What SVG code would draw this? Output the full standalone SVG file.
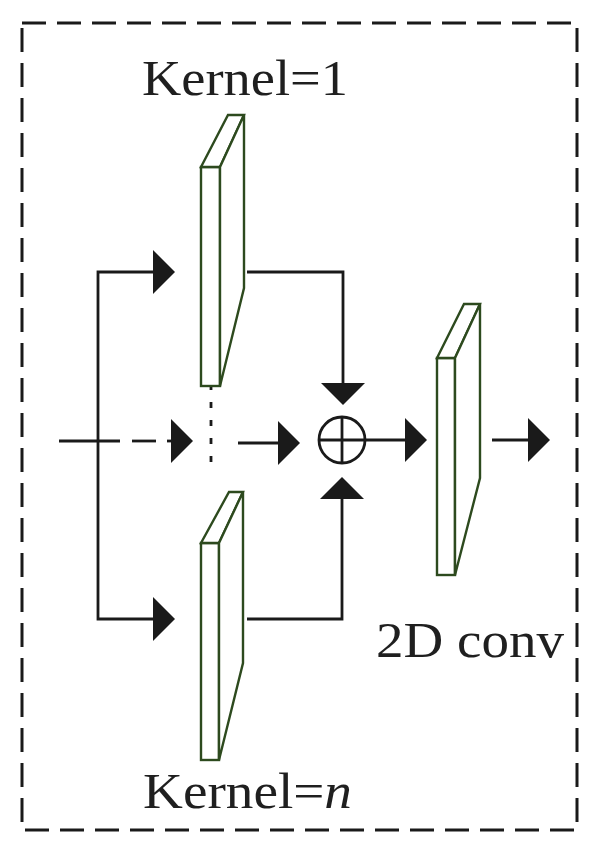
<svg xmlns="http://www.w3.org/2000/svg" width="600" height="854" viewBox="0 0 600 854">
<style>
.frame{fill:none;stroke:#1a1a1a;stroke-width:3;stroke-dasharray:24 11}
.ln{fill:none;stroke:#1a1a1a;stroke-width:2.8}
.ah{fill:#1a1a1a}
.slab{fill:#ffffff;stroke:#2d4a1e;stroke-width:2.4;stroke-linejoin:miter}
.lbl{font-family:"Liberation Serif","Times New Roman",serif;font-size:51px;fill:#1f1f1f}
</style>
<defs>
<path id="ah" d="M0,0 L-22,-22 L-22,22 Z"/>
</defs>
<rect class="frame" x="22" y="23" width="555" height="807"/>
<g id="connectors">
<line class="ln" x1="59" y1="441" x2="120" y2="441"/>
<line class="ln" x1="132" y1="441" x2="156" y2="441"/>
<line class="ln" x1="167" y1="441" x2="180" y2="441"/>
<use href="#ah" class="ah" transform="translate(193,441)"/>
<polyline class="ln" points="153,272 98,272 98,619 153,619"/>
<use href="#ah" class="ah" transform="translate(175,272)"/>
<use href="#ah" class="ah" transform="translate(175,619)"/>
<line class="ln" x1="211" y1="384" x2="211" y2="462" stroke-width="3" stroke-dasharray="6 12"/>
<line class="ln" x1="238" y1="443" x2="285" y2="443"/>
<use href="#ah" class="ah" transform="translate(300,443)"/>
<polyline class="ln" points="247,272 343,272 343,390"/>
<use href="#ah" class="ah" transform="translate(343,405) rotate(90)"/>
<polyline class="ln" points="247,619 342,619 342,490"/>
<use href="#ah" class="ah" transform="translate(342,477) rotate(-90)"/>
<line class="ln" x1="365" y1="440" x2="415" y2="440"/>
<use href="#ah" class="ah" transform="translate(427,440)"/>
<line class="ln" x1="492" y1="440" x2="538" y2="440"/>
<use href="#ah" class="ah" transform="translate(550,440)"/>
</g>
<g id="sum">
<circle class="ln" cx="342" cy="440" r="23"/>
<line class="ln" x1="319" y1="440" x2="365" y2="440"/>
<line class="ln" x1="342" y1="417" x2="342" y2="463"/>
</g>
<g id="slab-kernel1">
<rect class="slab" x="201" y="167" width="19" height="219"/>
<polygon class="slab" points="201,167 228,115 244,115 220,167"/>
<polygon class="slab" points="220,167 244,115 244,288 220,386"/>
</g>
<g id="slab-kerneln">
<rect class="slab" x="201" y="543" width="18" height="217"/>
<polygon class="slab" points="201,543 229,492 243,492 219,543"/>
<polygon class="slab" points="219,543 243,492 243,663 219,760"/>
</g>
<g id="slab-2dconv">
<rect class="slab" x="437" y="358" width="18" height="217"/>
<polygon class="slab" points="437,358 464,304 480,304 455,358"/>
<polygon class="slab" points="455,358 480,304 480,478 455,575"/>
</g>
<g id="labels">
<text class="lbl" x="142" y="95" textLength="206" lengthAdjust="spacingAndGlyphs">Kernel=1</text>
<text class="lbl" x="143" y="808" textLength="209" lengthAdjust="spacingAndGlyphs">Kernel=<tspan font-style="italic">n</tspan></text>
<text class="lbl" x="376" y="657" textLength="188" lengthAdjust="spacingAndGlyphs">2D conv</text>
</g>
</svg>
